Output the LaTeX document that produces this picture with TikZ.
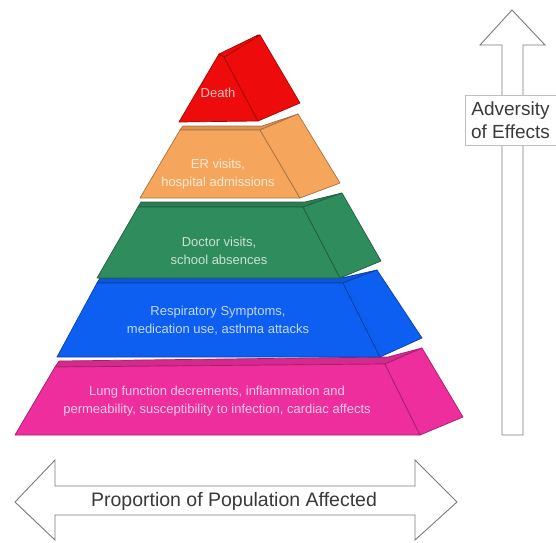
\documentclass[tikz,border=0pt]{standalone}
\usepackage{fontspec}
\setmainfont{Liberation Sans}
\definecolor{cRed}{HTML}{EE0B0B}
\definecolor{cOrange}{HTML}{F5A65C}
\definecolor{cGreen}{HTML}{2F8C5C}
\definecolor{cBlue}{HTML}{0D5FF2}
\definecolor{cPink}{HTML}{EE2E9C}
\definecolor{cArrow}{HTML}{7A7A7A}
\definecolor{cText}{HTML}{3A3A3A}
\tikzset{
  face/.style={fill=#1, draw=#1!68!black, line width=0.7pt, line join=round},
  strip/.style={fill=#1!90!black, draw=#1!68!black, line width=0.7pt, line join=round},
  ptext/.style={text=white!75!#1, align=center, font=\fontsize{13}{18}\selectfont, inner sep=0pt},
  blockarrow/.style={fill=white, draw=cArrow, line width=0.9pt, line join=miter},
  btext/.style={text=cText, align=center, inner sep=0pt}
}
\begin{document}
\begin{tikzpicture}[x=1pt,y=-1pt]
\useasboundingbox (0,0) rectangle (556,542);
% ---- pink layer
\draw[strip=cPink] (55,367) -- (385,364) -- (422,348) -- (388,357) -- (59,361) -- cycle;
\draw[face=cPink] (15,435) -- (55,367) -- (385,364) -- (420,435) -- cycle;
\draw[face=cPink] (385,364) -- (422,348) -- (463,417) -- (420,435) -- cycle;
% ---- blue layer
\draw[strip=cBlue] (97,283) -- (343,283) -- (377,270) -- (346,277) -- (100,278) -- cycle;
\draw[face=cBlue] (57,357) -- (97,283) -- (343,283) -- (380,357) -- cycle;
\draw[face=cBlue] (343,283) -- (377,270) -- (422,338) -- (380,357) -- cycle;
% ---- green layer
\draw[strip=cGreen] (138,207) -- (303,207) -- (342,193) -- (305,202) -- (141,202) -- cycle;
\draw[face=cGreen] (97,278) -- (138,207) -- (303,207) -- (340,278) -- cycle;
\draw[face=cGreen] (303,207) -- (342,193) -- (381,261) -- (340,278) -- cycle;
% ---- orange layer
\draw[strip=cOrange] (180,130) -- (260,130) -- (298,114) -- (262,126) -- (183,126) -- cycle;
\draw[face=cOrange] (140,198) -- (180,130) -- (260,130) -- (300,198) -- cycle;
\draw[face=cOrange] (260,130) -- (298,114) -- (340,183) -- (300,198) -- cycle;
% ---- red layer
\draw[face=cRed] (179,122) -- (219,54) -- (224,57) -- (258,121) -- cycle;
\draw[face=cRed] (224,57) -- (260,35) -- (300,103) -- (258,121) -- cycle;
\draw[face=cRed] (219,54) -- (258,35) -- (260,35) -- (224,57) -- cycle;
% ---- layer labels
\node[ptext=cRed] (death) at (218,93) {Death};
\node[ptext=cOrange] (er) at (218,174) {ER visits,\\hospital admissions};
\node[ptext=cGreen] (doc) at (219,251) {Doctor visits,\\school absences};
\node[ptext=cBlue] (resp) at (218,321) {Respiratory Symptoms,\\medication use, asthma attacks};
\node[ptext=cPink] (lung) at (217,401) {Lung function decrements, inflammation and\\permeability, susceptibility to infection, cardiac affects};
% ---- vertical arrow
\draw[blockarrow] (512,10) -- (545,45) -- (523,45) -- (523,435) -- (502,435) -- (502,45) -- (480,45) -- cycle;
\node[btext, fill=white, draw=black!25, line width=0.6pt, minimum width=91pt, minimum height=50pt, font=\fontsize{19}{23}\selectfont] (adv) at (510.5,120) {Adversity\\of Effects};
% ---- horizontal double arrow
\draw[blockarrow] (15,502) -- (55,460) -- (55,486) -- (415,486) -- (415,460) -- (457,502) -- (415,540) -- (415,515) -- (55,515) -- (55,540) -- cycle;
\node[btext, font=\fontsize{19.5}{23}\selectfont] (prop) at (234,501) {Proportion of Population Affected};
\end{tikzpicture}
\end{document}
